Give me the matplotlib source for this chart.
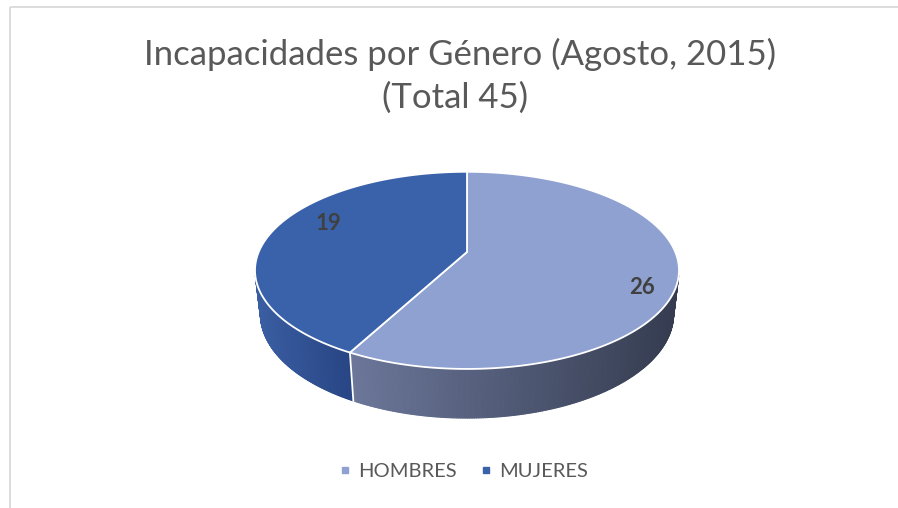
import numpy as np
import matplotlib.pyplot as plt
from matplotlib.collections import PolyCollection
from matplotlib.patches import Polygon, Rectangle
from matplotlib.lines import Line2D
from matplotlib.colors import to_rgb

plt.rcParams["font.family"] = ["Lato", "DejaVu Sans"]

title_1 = "Incapacidades por Género (Agosto, 2015)"
title_2 = "(Total 45)"
labels = ["HOMBRES", "MUJERES"]
values = [26, 19]
top_colors = ["#8FA1D1", "#3A62AA"]
side_left = ["#6B7699", "#3A5EA2"]
side_right = ["#353C50", "#284584"]
label_r = [0.86, 0.77]

# simple perspective camera, output in pixels of the 898x508 canvas
TILT = np.radians(29.7)
THICK = 0.238
DIST = 4.766
FOCAL = 968.0
CX, CY = 467.0, 295.0
SA, CA = np.sin(TILT), np.cos(TILT)


def project(x, y, z):
    d = DIST + y * CA - z * SA
    return CX + FOCAL * x / d, CY - FOCAL * (y * SA + z * CA) / d


def rim(theta, z, r=1.0):
    # theta runs clockwise from the far point of the pie
    return project(r * np.sin(theta), r * np.cos(theta), z)


def facing(theta):
    return 1 + DIST * CA * np.cos(theta) < 0


fig = plt.figure(figsize=(8.98, 5.08), dpi=100)
ax = fig.add_axes([0, 0, 1, 1])
ax.set_xlim(0, 898)
ax.set_ylim(508, 0)
ax.axis("off")

ax.add_patch(Rectangle((9.5, 6.5), 950, 550, fill=False, ec="#d9d9d9", lw=1.3))

total = sum(values)
spans = np.array(values) / total * 2 * np.pi
starts = np.concatenate([[0], np.cumsum(spans)[:-1]])

# side walls
for i in range(len(values)):
    th = np.linspace(starts[i], starts[i] + spans[i], 400)
    quads, mids = [], []
    for t0, t1 in zip(th[:-1], th[1:]):
        if not facing((t0 + t1) / 2):
            continue
        a0, a1 = rim(t0, THICK), rim(t1, THICK)
        b0, b1 = rim(t0, 0), rim(t1, 0)
        quads.append([a0, a1, b1, b0])
        mids.append((a0[0] + a1[0]) / 2)
    if not quads:
        continue
    mids = np.array(mids)
    f = (mids - mids.min()) / (mids.max() - mids.min())
    c0, c1 = np.array(to_rgb(side_left[i])), np.array(to_rgb(side_right[i]))
    cols = c0[None, :] * (1 - f[:, None]) + c1[None, :] * f[:, None]
    ax.add_collection(PolyCollection(quads, facecolors=cols, edgecolors=cols,
                                     linewidths=0.8, zorder=1))

# top faces
apex = project(0, 0, THICK)
for i in range(len(values)):
    th = np.linspace(starts[i], starts[i] + spans[i], 300)
    px, py = rim(th, THICK)
    pts = np.vstack([[apex], np.column_stack([px, py])])
    ax.add_patch(Polygon(pts, closed=True, fc=top_colors[i], ec="white",
                         lw=1.3, joinstyle="round", zorder=2))

# white split lines on the wall
for s in starts:
    if facing(s):
        xa, ya = rim(s, THICK)
        xb, yb = rim(s, 0)
        ax.plot([xa, xb], [ya, yb], color="white", lw=1.3, zorder=3)

# data labels
for i in range(len(values)):
    mid = starts[i] + spans[i] / 2 + np.radians(10)
    lx, ly = rim(mid, THICK, r=label_r[i])
    ax.text(lx, ly, str(values[i]), ha="center", va="center", fontsize=16,
            fontweight="bold", color="#404040", zorder=4)

ax.text(460, 54, title_1, ha="center", va="center", fontsize=25,
        color="#595959")
ax.text(455, 98, title_2, ha="center", va="center", fontsize=25,
        color="#595959")

handles = [Line2D([], [], marker="s", linestyle="none", markersize=5,
                  color=c) for c in top_colors]
ax.legend(handles, labels, loc="center", bbox_to_anchor=(463, 471),
          bbox_transform=ax.transData, ncol=2, frameon=False, fontsize=14.5,
          handlelength=0.7, handletextpad=0.3, columnspacing=1.1,
          labelcolor="#595959")

fig.savefig("out.png", dpi=100)
